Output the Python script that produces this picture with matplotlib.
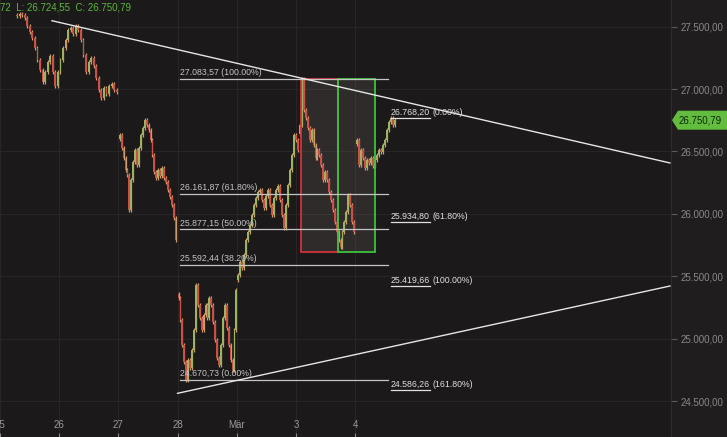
import numpy as np
import matplotlib
matplotlib.use("Agg")
import matplotlib.pyplot as plt
from matplotlib.patches import Rectangle, Polygon

plt.rcParams['font.family'] = ['Liberation Sans', 'DejaVu Sans']

# --- price data: closes per trading session (x axis in day units, 0 = "25") ---
s1_close = [27586, 27602, 27594, 27570, 27506, 27458, 27409, 27329, 27233, 27153,
            27057, 27137, 27217, 27265, 27137, 27025, 27137, 27233, 27329, 27393,
            27474, 27490, 27442, 27506, 27474, 27393, 27273, 27137, 27217, 27249,
            27185, 27089, 26993, 26929, 27009, 26961, 27025, 27041, 26993, 26977]
s2_close = [26632, 26528, 26448, 26352, 26311, 26031, 26271, 26416, 26512, 26392,
            26528, 26632, 26688, 26752, 26712, 26672, 26592, 26472, 26335, 26287,
            26352, 26303, 26368, 26287, 26255, 26191, 26135, 26071, 25967, 25790]
s3_close = [25326, 25149, 24949, 24813, 24671, 24829, 24765, 24909, 25069, 25430,
            25270, 25165, 25069, 25189, 25270, 25165, 25326, 25270, 25133, 24989,
            24845, 24789, 24949, 25165, 25270, 25085, 24949, 24829, 24749, 25069,
            25390]
s4_close = [25510, 25614, 25566, 25670, 25790, 25855, 25911, 25991, 26071, 26127,
            26175, 26191, 26111, 26047, 26143, 26191, 26071, 25991, 26127, 26191,
            26223, 26111, 25991, 25887, 26071, 26231, 26352, 26472, 26632, 26592,
            26512]
s5_close = [26712, 27080, 26832, 26768, 26688, 26592, 26672, 26552, 26448, 26512,
            26472, 26392, 26271, 26335, 26271, 26175, 26111, 26031, 25935, 25855,
            25790, 25735, 25855, 25935, 26015, 26151, 26071, 25935, 25855]
s6_close = [26592, 26392, 26512, 26448, 26368, 26432, 26408, 26448, 26384, 26432,
            26472, 26512, 26496, 26552, 26592, 26672, 26736, 26768, 26712, 26750.79]

session_start = [0.288, 2.022, 3.015, 4.025, 5.069, 6.029]
session_end = [1.971, 2.965, 3.992, 5.035, 5.978, 6.668]
session_open = [27590, 26600, 25360, 25470, 26640, 26560]
session_close = [s1_close, s2_close, s3_close, s4_close, s5_close, s6_close]

day_pos = [0, 1, 2, 3, 4, 5, 6]
day_labels = ['25', '26', '27', '28', 'Mär', '3', '4']
y_ticks = [24500, 25000, 25500, 26000, 26500, 27000, 27500]

# fibonacci retracement (left set)
fib_levels = [27083.57, 26161.87, 25877.15, 25592.44, 24670.73]
fib_texts = ['27.083,57 (100.00%)', '26.161,87 (61.80%)', '25.877,15 (50.00%)',
             '25.592,44 (38.20%)', '24.670,73 (0.00%)']
# fibonacci extension (right set)
ext_levels = [26768.20, 25934.80, 25419.66, 24586.26]
ext_nums = ['26.768,20', '25.934,80', '25.419,66', '24.586,26']
ext_pcts = ['(0.00%)', '(61.80%)', '(100.00%)', '(161.80%)']

# trend lines (day, price)
upper_line = ([0.877, 11.315], [27548, 26408])
lower_line = ([2.998, 11.315], [24562, 25422])

# boxes: (x0, x1, low, high)
red_box = (5.086, 5.709, 25697, 27083.57)
green_box = (5.709, 6.332, 25697, 27083.57)

header = '72  L: 26.724,55  C: 26.750,79'
last_price = 26750.79

bg = '#1b1919'
panel = '#1f1d1d'
grid_col = '#272525'
fib_col = '#c4c4c4'

def de(v):
    return f"{v:,.2f}".replace(',', 'X').replace('.', ',').replace('X', '.')

fig = plt.figure(figsize=(7.27, 4.37), dpi=100, facecolor=panel)
ax = fig.add_axes([0, 0, 671 / 727, 1])
ax.set_facecolor(bg)
ax.set_xlim(0.0354, 11.332)
ax.set_ylim(24212, 27714)

# grid
for d in day_pos:
    ax.axvline(d, color=grid_col, lw=0.8, zorder=0)
for v in y_ticks:
    ax.axhline(v, color=grid_col, lw=0.8, zorder=0)

# boxes
for (x0, x1, lo, hi), ec in [(red_box, '#d2323c'), (green_box, '#3cc43c')]:
    ax.add_patch(Rectangle((x0, lo), x1 - x0, hi - lo, facecolor='#8a8282',
                           alpha=0.18, edgecolor='none', zorder=1))
    ax.add_patch(Rectangle((x0, lo), x1 - x0, hi - lo, facecolor='none',
                           edgecolor=ec, lw=1.3, zorder=4))

# candles
bw = 0.03
wick = 16
for start, end, first_open, closes in zip(session_start, session_end, session_open, session_close):
    c = np.array(closes, dtype=float)
    t = np.linspace(start, end, len(c))
    o = np.r_[first_open, c[:-1]]
    up = c >= o
    ax.vlines(t, np.minimum(o, c) - wick, np.maximum(o, c) + wick,
              color='#d09a6c', lw=0.9, zorder=2)
    ax.bar(t[up], (c - o)[up], bottom=o[up], width=bw, color='#9cb460', lw=0, zorder=3)
    ax.bar(t[~up], (c - o)[~up], bottom=o[~up], width=bw, color='#cc5046', lw=0, zorder=3)

# fib retracement lines + labels
fx0, fx1 = 3.032, 6.55
for lv, txt in zip(fib_levels, fib_texts):
    ax.plot([fx0, fx1], [lv, lv], color=fib_col, lw=0.9, zorder=5)
    ax.annotate(txt, (fx0, lv), xytext=(0, 1), textcoords='offset points',
                color=fib_col, fontsize=6.3, va='bottom', ha='left', zorder=6)

# fib extension labels with underlined number
ex = 6.601
num_texts = []
for lv, n, p in zip(ext_levels, ext_nums, ext_pcts):
    nt = ax.annotate(n, (ex, lv), xytext=(0, 1), textcoords='offset points',
                     color='#e0e0e0', fontsize=6.3, va='bottom', ha='left', zorder=6)
    ax.annotate(p, xy=(1, 0), xycoords=nt, xytext=(2, 0), textcoords='offset points',
                color='#e0e0e0', fontsize=6.3, va='bottom', ha='left', zorder=6)
    num_texts.append((nt, lv))

# trend lines
ax.plot(*upper_line, color='#e6e6e6', lw=1.0, zorder=5)
ax.plot(*lower_line, color='#e6e6e6', lw=1.0, zorder=5)

# x axis: labels inside the plot
ax.set_xticks(day_pos)
ax.tick_params(axis='x', direction='in', length=3, color='#8a8888', labelbottom=False)
for d, lab in zip(day_pos, day_labels):
    ax.text(d, 12 / 437, lab, transform=ax.get_xaxis_transform(), ha='center',
            va='center', color='#9a9898', fontsize=7)

# y axis on the right
ax.yaxis.tick_right()
ax.set_yticks(y_ticks)
ax.set_yticklabels([de(v) for v in y_ticks])
ax.tick_params(axis='y', direction='out', length=4, pad=3, color='#5a5858',
               labelcolor='#8a8888', labelsize=7)
for side in ['top', 'left']:
    ax.spines[side].set_visible(False)
ax.spines['right'].set_color('#2e2c2c')
ax.spines['bottom'].set_color('#4a4848')

# header text
ax.text(0.0, 1 - 7 / 437, header, transform=ax.transAxes, color='#5cb83c',
        fontsize=7, va='center', ha='left')

# current price tag
y0, y1 = ax.get_ylim()
yf = (last_price - y0) / (y1 - y0)
xr = ax.get_position().x1
h = 9.5 / 437
tag = Polygon([[xr + 1 / 727, yf], [xr + 7 / 727, yf + h], [1.0, yf + h],
               [1.0, yf - h], [xr + 7 / 727, yf - h]], closed=True,
              transform=fig.transFigure, facecolor='#62bd3e', edgecolor='none')
fig.patches.append(tag)
fig.text(xr + 8 / 727, yf, de(last_price), color='#10260a', fontsize=7, va='center', ha='left')

# underline the extension numbers
fig.canvas.draw()
r = fig.canvas.get_renderer()
inv = ax.transData.inverted()
for nt, lv in num_texts:
    bb = nt.get_window_extent(r)
    xa = inv.transform((bb.x0, 0))[0]
    xb = inv.transform((bb.x1, 0))[0]
    ax.plot([xa, xb], [lv, lv], color='#e0e0e0', lw=0.9, zorder=6)

fig.savefig('out.png', dpi=100, facecolor=fig.get_facecolor())
